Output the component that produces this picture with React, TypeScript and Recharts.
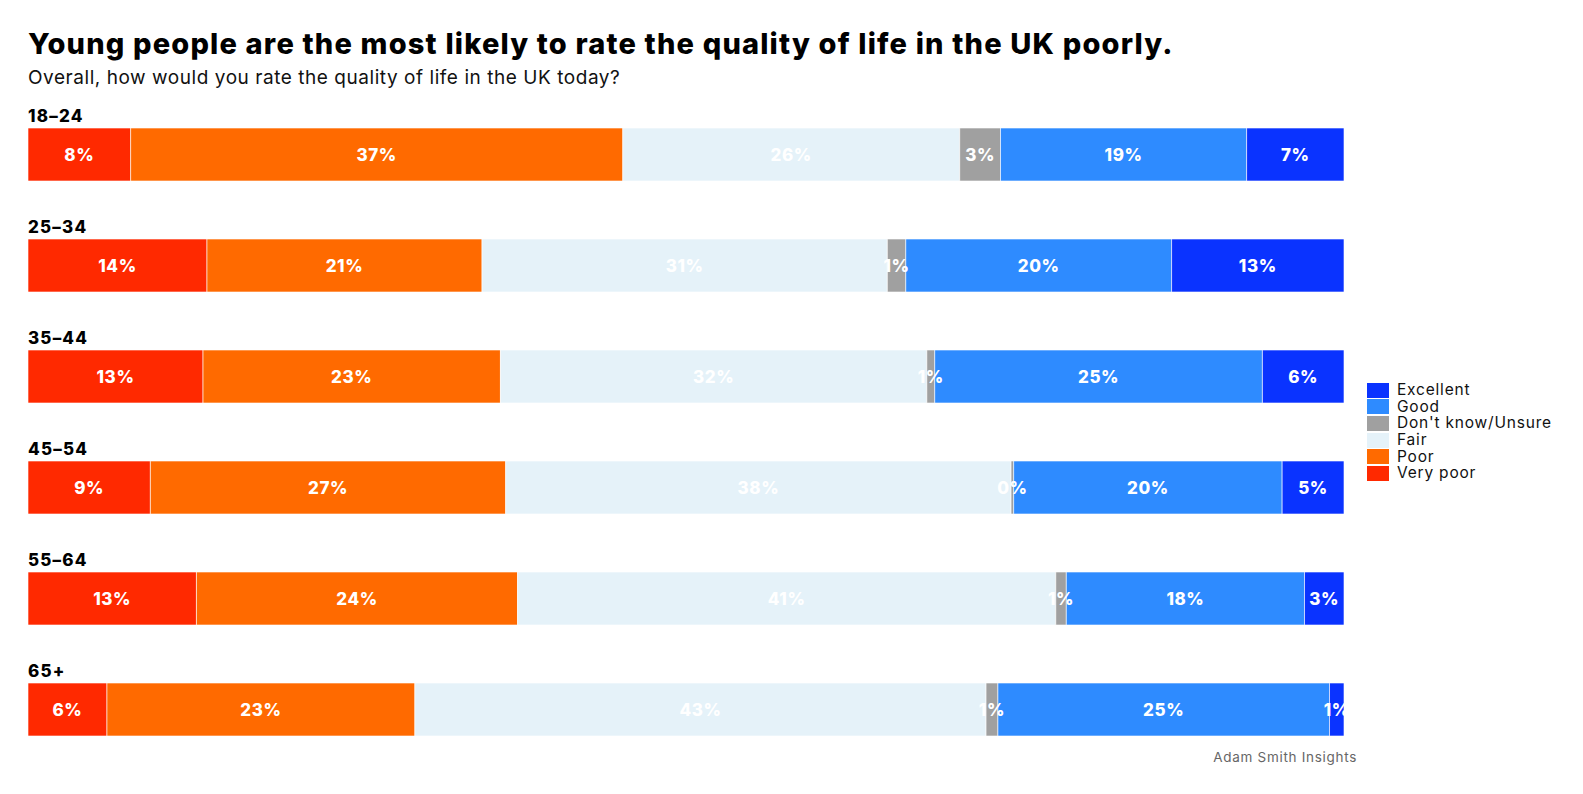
import React from "react"
import { BarChart, Bar, XAxis, YAxis, LabelList } from "recharts"

const groups = ["18–24", "25–34", "35–44", "45–54", "55–64", "65+"]

const veryPoor = [7.8, 13.6, 13.3, 9.3, 12.8, 6.0]
const poor = [37.4, 20.9, 22.6, 27.0, 24.4, 23.4]
const fair = [25.6, 30.8, 32.4, 38.4, 40.9, 43.4]
const dontKnow = [3.1, 1.4, 0.6, 0.2, 0.8, 0.9]
const good = [18.7, 20.2, 24.9, 20.4, 18.1, 25.2]
const excellent = [7.4, 13.1, 6.2, 4.7, 3.0, 1.1]

const series = [
  { key: "veryPoor", name: "Very poor", color: "#FF2900", values: veryPoor },
  { key: "poor", name: "Poor", color: "#FF6A00", values: poor },
  { key: "fair", name: "Fair", color: "#E5F2F9", values: fair },
  { key: "dontKnow", name: "Don't know/Unsure", color: "#A0A0A0", values: dontKnow },
  { key: "good", name: "Good", color: "#2E8BFF", values: good },
  { key: "excellent", name: "Excellent", color: "#0A33FF", values: excellent },
]

const rows = groups.map((group, i) => {
  const row: Record<string, any> = { group }
  series.forEach((s) => (row[s.key] = s.values[i]))
  return row
})

const FONT = "Inter, 'Noto Sans', sans-serif"

// group name drawn just above the start of each bar
function GroupLabel(props: any) {
  const { x, y, value } = props
  return (
    <text x={x} y={y - 6} textAnchor="start" fontFamily={FONT} fontWeight={800} fontSize={17} letterSpacing={1.2} fill="#000">
      {value}
    </text>
  )
}

export default function App() {
  return (
    <div style={{ position: "fixed", left: 0, top: 0, width: 1583, height: 794, overflow: "hidden", background: "#fff" }}>
      <div style={{ position: "absolute", left: 28, top: 26, fontFamily: FONT, fontWeight: 800, fontSize: 29, letterSpacing: 1.18, color: "#000", whiteSpace: "nowrap" }}>
        Young people are the most likely to rate the quality of life in the UK poorly.
      </div>
      <div style={{ position: "absolute", left: 28, top: 66, fontFamily: FONT, fontSize: 19, letterSpacing: 0.55, color: "#111", whiteSpace: "nowrap" }}>
        Overall, how would you rate the quality of life in the UK today?
      </div>
      <BarChart
        width={1583}
        height={794}
        data={rows}
        layout="vertical"
        margin={{ top: 99, right: 239, bottom: 29, left: 28 }}
      >
        <XAxis type="number" domain={[0, 100]} allowDataOverflow hide />
        <YAxis type="category" dataKey="group" hide />
        {series.map((s, si) => (
          <Bar
            key={s.key}
            dataKey={s.key}
            name={s.name}
            stackId="a"
            fill={s.color}
            barSize={53}
            stroke="rgba(255,255,255,0.6)"
            strokeWidth={1}
            isAnimationActive={false}
          >
            {si === 0 && <LabelList dataKey="group" content={<GroupLabel />} />}
            <LabelList
              dataKey={s.key}
              position="center"
              fill="#fff"
              fontFamily={FONT}
              fontWeight={800}
              fontSize={17}
              letterSpacing={0.6}
              formatter={(v: any) => `${Math.round(v)}%`}
            />
          </Bar>
        ))}
      </BarChart>
      <div style={{ position: "absolute", left: 1367, top: 382, fontFamily: FONT, fontSize: 15.5, letterSpacing: 0.8, color: "#111" }}>
        {[...series].reverse().map((s) => (
          <div key={s.key} style={{ display: "flex", alignItems: "center", height: 16.6 }}>
            <span style={{ width: 22, height: 15, background: s.color, marginRight: 8, display: "inline-block" }} />
            <span style={{ lineHeight: "16px", whiteSpace: "nowrap" }}>{s.name}</span>
          </div>
        ))}
      </div>
      <div style={{ position: "absolute", right: 1583 - 1357, top: 749, fontFamily: FONT, fontSize: 13.5, letterSpacing: 0.7, color: "#666", whiteSpace: "nowrap" }}>
        Adam Smith Insights
      </div>
    </div>
  )
}
